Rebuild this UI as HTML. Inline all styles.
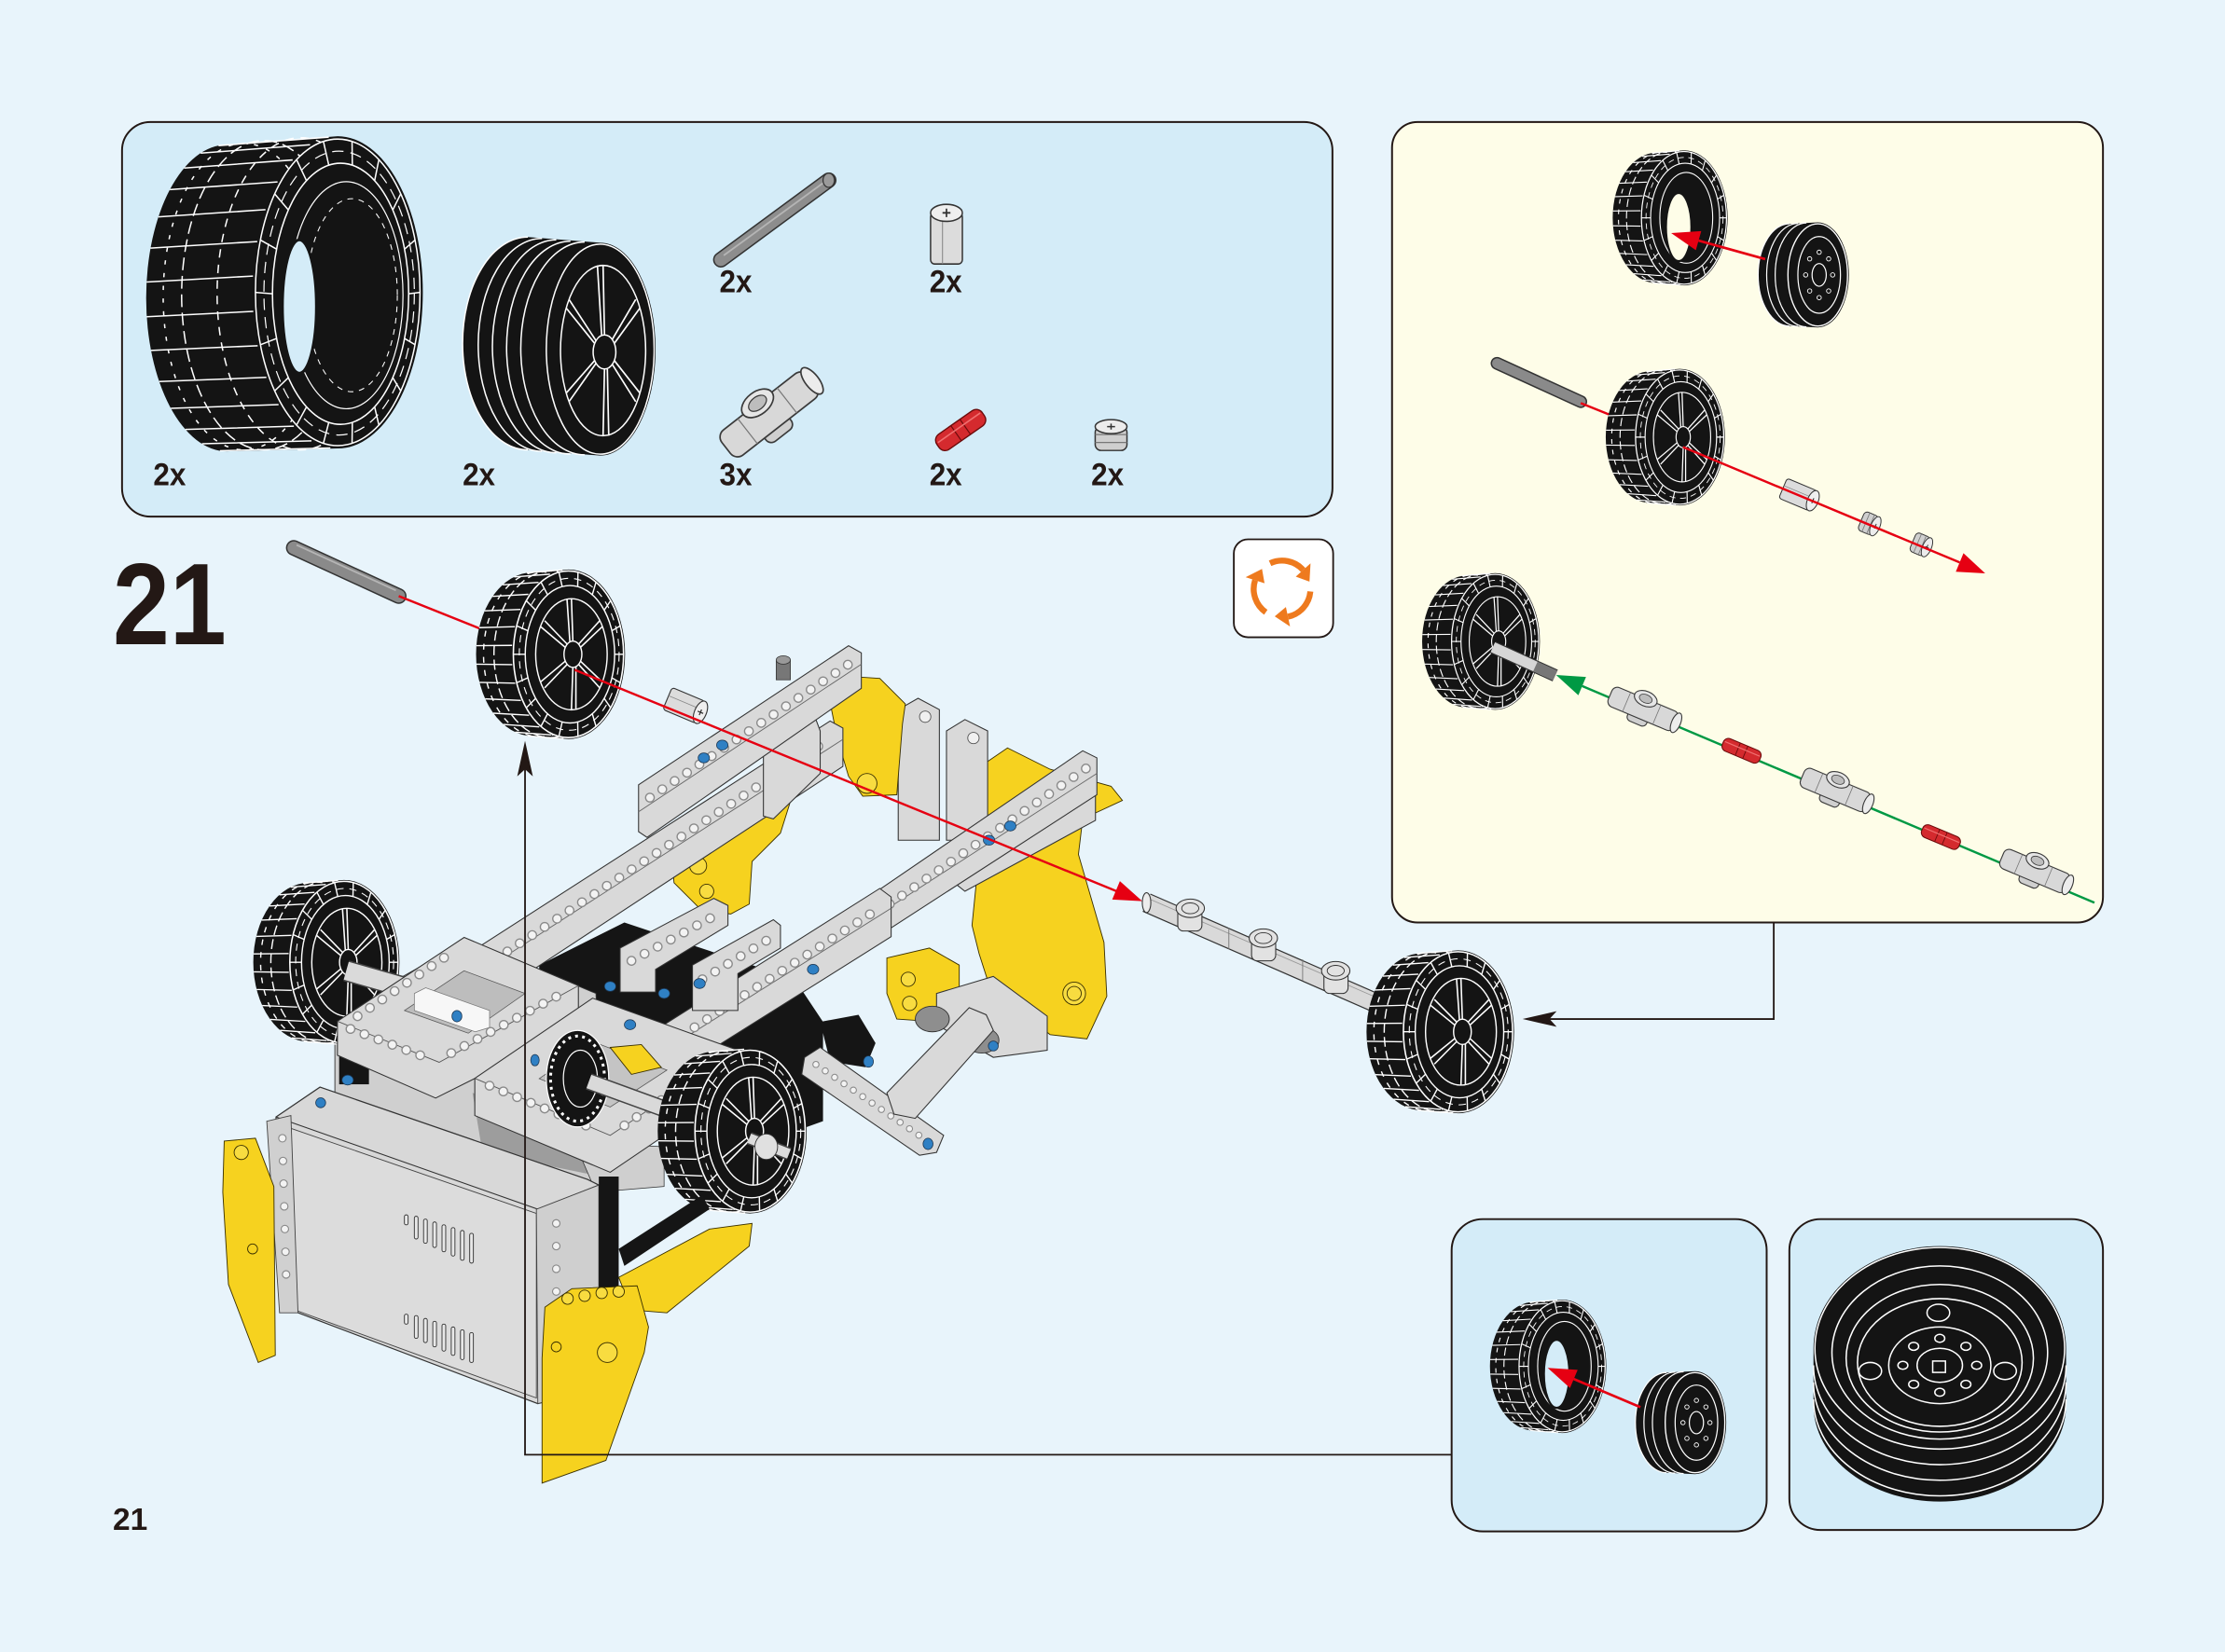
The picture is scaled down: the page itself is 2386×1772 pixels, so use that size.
<!DOCTYPE html>
<html><head><meta charset="utf-8"><title>Step 21</title>
<style>
html,body{margin:0;padding:0;background:#e8f4fb;overflow:hidden}
svg{display:block}
.h1{stroke:#8a8a8a;stroke-width:7;stroke-linecap:round;stroke-dasharray:0 10.5;fill:none}
.h2{stroke:#f3f3f3;stroke-width:5.2;stroke-linecap:round;stroke-dasharray:0 10.5;fill:none}
.g{fill:#d9d9d9;stroke:#333;stroke-width:0.7}
.y{fill:#f6d21f;stroke:#3a3000;stroke-width:0.6}
.k{fill:#151515}
.bp{fill:#2f80c4;stroke:#1c3550;stroke-width:0.5}
.lbl{font-family:"Liberation Sans Narrow","Liberation Sans",sans-serif;font-weight:bold;font-size:22.5px;fill:#231815}
</style></head><body>
<svg xmlns="http://www.w3.org/2000/svg" width="2386" height="1772" viewBox="0 0 1568 1164" preserveAspectRatio="none">
<defs>
<g id="wh">
<path d="M-12,-56 A38,56 0 0 0 -12,56 L12,58 A38,58 0 0 0 12,-58 Z" fill="#141414"/>
<g stroke="#fff" stroke-width="0.9" fill="none">
<ellipse cx="0" cy="0" rx="38" ry="57" stroke-dasharray="7 3"/>
<ellipse cx="-7" cy="0" rx="38" ry="56.5" stroke-dasharray="4 5"/>
<path d="M-15.3,55.8L8.7,57.8M-23.7,53.3L0.3,55.2M-31.6,48L-7.6,49.7M-38.4,40.3L-14.4,41.7M-43.9,30.5L-19.9,31.6M-47.7,19.2L-23.7,19.8M-49.7,6.8L-25.7,7.1M-49.8,-5.9L-25.8,-6.1M-47.9,-18.2L-23.9,-18.9M-44.2,-29.7L-20.2,-30.7M-38.9,-39.6L-14.9,-41M-32.1,-47.5L-8.1,-49.2M-24.4,-52.9L-0.4,-54.8M-16,-55.7L8,-57.7"/>
</g>
<ellipse cx="12" cy="0" rx="37" ry="57" fill="#141414" stroke="#fff" stroke-width="1"/>
<ellipse cx="13" cy="0" rx="30" ry="47" fill="none" stroke="#fff" stroke-width="0.9"/>
<ellipse cx="12.5" cy="0" rx="33.5" ry="52" fill="none" stroke="#fff" stroke-width="0.7" stroke-dasharray="5 4"/>
<path stroke="#fff" stroke-width="0.9" d="M49,0L43,0M46.8,19.5L41.2,16.1M40.3,36.6L36,30.2M30.5,49.4L28,40.7M18.4,56.1L18.2,46.3M5.6,56.1L7.8,46.3M-6.5,49.4L-2,40.7M-16.3,36.6L-10,30.2M-22.8,19.5L-15.2,16.1M-25,0L-17,0M-22.8,-19.5L-15.2,-16.1M-16.3,-36.6L-10,-30.2M-6.5,-49.4L-2,-40.7M5.6,-56.1L7.8,-46.3M18.4,-56.1L18.2,-46.3M30.5,-49.4L28,-40.7M40.3,-36.6L36,-30.2M46.8,-19.5L41.2,-16.1"/>
<ellipse cx="14" cy="0" rx="24" ry="38" fill="none" stroke="#fff" stroke-width="0.9"/>
<path stroke="#fff" stroke-width="1" d="M34.8,19L19.3,4M14,38L15,8M-6.8,19L10.7,4M-6.8,-19L10.7,-4M14,-38L15,-8M34.8,-19L19.3,-4M33,23L18,6M17,38L17,8M-4,23L12,6M-4,-23L12,-6M11,-38L13,-8M33,-23L18,-6"/>
<ellipse cx="15" cy="0" rx="6" ry="9" fill="#141414" stroke="#fff" stroke-width="0.9"/>
</g>
<g id="tr">
<path d="M-12,-56 A38,56 0 0 0 -12,56 L12,58 A38,58 0 0 0 12,-58 Z" fill="#141414"/>
<g stroke="#fff" stroke-width="0.9" fill="none">
<ellipse cx="0" cy="0" rx="38" ry="57" stroke-dasharray="7 3"/>
<ellipse cx="-7" cy="0" rx="38" ry="56.5" stroke-dasharray="4 5"/>
<path d="M-15.3,55.8L8.7,57.8M-23.7,53.3L0.3,55.2M-31.6,48L-7.6,49.7M-38.4,40.3L-14.4,41.7M-43.9,30.5L-19.9,31.6M-47.7,19.2L-23.7,19.8M-49.7,6.8L-25.7,7.1M-49.8,-5.9L-25.8,-6.1M-47.9,-18.2L-23.9,-18.9M-44.2,-29.7L-20.2,-30.7M-38.9,-39.6L-14.9,-41M-32.1,-47.5L-8.1,-49.2M-24.4,-52.9L-0.4,-54.8M-16,-55.7L8,-57.7"/>
</g>
<ellipse cx="12" cy="0" rx="37" ry="57" fill="#141414" stroke="#fff" stroke-width="1"/>
<ellipse cx="13" cy="0" rx="30" ry="47" fill="none" stroke="#fff" stroke-width="0.9"/>
<ellipse cx="12.5" cy="0" rx="33.5" ry="52" fill="none" stroke="#fff" stroke-width="0.7" stroke-dasharray="5 4"/>
<path stroke="#fff" stroke-width="0.9" d="M49,0L43,0M46.8,19.5L41.2,16.1M40.3,36.6L36,30.2M30.5,49.4L28,40.7M18.4,56.1L18.2,46.3M5.6,56.1L7.8,46.3M-6.5,49.4L-2,40.7M-16.3,36.6L-10,30.2M-22.8,19.5L-15.2,16.1M-25,0L-17,0M-22.8,-19.5L-15.2,-16.1M-16.3,-36.6L-10,-30.2M-6.5,-49.4L-2,-40.7M5.6,-56.1L7.8,-46.3M18.4,-56.1L18.2,-46.3M30.5,-49.4L28,-40.7M40.3,-36.6L36,-30.2M46.8,-19.5L41.2,-16.1"/>
<ellipse cx="14" cy="0" rx="23" ry="39" fill="none" stroke="#fff" stroke-width="0.9"/>
</g>
<g id="rim">
<path d="M-10,-36 A22,36 0 0 0 -10,36 L10,37 A22,37 0 0 0 10,-37 Z" fill="#141414"/>
<path d="M-4,-36.3 A22,36.3 0 0 0 -4,36.3 M2,-36.6 A22,36.6 0 0 0 2,36.6 M-10,-36 A22,36 0 0 0 -10,36" stroke="#fff" stroke-width="0.8" fill="none"/>
<ellipse cx="10" cy="0" rx="21" ry="36" fill="#141414" stroke="#fff" stroke-width="0.9"/>
<ellipse cx="11" cy="0" rx="15" ry="27" fill="none" stroke="#fff" stroke-width="0.8"/>
<ellipse cx="11" cy="0" rx="5" ry="8" fill="none" stroke="#fff" stroke-width="0.8"/>
<g fill="none" stroke="#fff" stroke-width="0.6">
<circle cx="20.5" cy="0" r="1.5"/><circle cx="17.7" cy="11.3" r="1.5"/><circle cx="11" cy="16" r="1.5"/><circle cx="4.3" cy="11.3" r="1.5"/><circle cx="1.5" cy="0" r="1.5"/><circle cx="4.3" cy="-11.3" r="1.5"/><circle cx="11" cy="-16" r="1.5"/><circle cx="17.7" cy="-11.3" r="1.5"/>
</g>
</g>
<g id="conn">
<rect x="-8" y="-2" width="14" height="13" rx="3" fill="#cfcfcf" stroke="#3a3a3a" stroke-width="0.7"/>
<rect x="-24" y="-7" width="48" height="14" rx="4" fill="#d8d8d8" stroke="#3a3a3a" stroke-width="0.7"/>
<line x1="-12" y1="-7" x2="-12" y2="7" stroke="#777" stroke-width="0.5"/>
<line x1="10" y1="-7" x2="10" y2="7" stroke="#777" stroke-width="0.5"/>
<ellipse cx="-1" cy="-7" rx="8" ry="5" fill="#e6e6e6" stroke="#3a3a3a" stroke-width="0.7"/>
<ellipse cx="-1" cy="-7" rx="4.5" ry="2.8" fill="#bdbdbd" stroke="#3a3a3a" stroke-width="0.5"/>
<ellipse cx="24" cy="0" rx="3" ry="7" fill="#ececec" stroke="#3a3a3a" stroke-width="0.7"/>
</g>
<g id="pin">
<rect x="-15" y="-5" width="30" height="10" rx="4" fill="#d42a2e" stroke="#6b0b0b" stroke-width="0.7"/>
<line x1="-3" y1="-5" x2="-3" y2="5" stroke="#6b0b0b" stroke-width="0.6"/>
<line x1="3" y1="-5" x2="3" y2="5" stroke="#6b0b0b" stroke-width="0.6"/>
<line x1="-14" y1="-1.5" x2="14" y2="-1.5" stroke="#f07070" stroke-width="0.8"/>
</g>
<g id="bush">
<rect x="-12" y="-8" width="24" height="16" rx="2" fill="#dcdcdc" stroke="#333" stroke-width="0.7"/>
<line x1="-12" y1="-2" x2="12" y2="-2" stroke="#888" stroke-width="0.5"/>
<ellipse cx="12" cy="0" rx="4" ry="8" fill="#efefef" stroke="#333" stroke-width="0.7"/>
<path d="M10,0h4M12,-2v4" stroke="#333" stroke-width="0.8"/>
</g>
<g id="hb">
<rect x="-6" y="-8" width="12" height="16" rx="3" fill="#cfcfcf" stroke="#333" stroke-width="0.7"/>
<line x1="-2" y1="-8" x2="-2" y2="8" stroke="#777" stroke-width="0.6"/>
<line x1="2" y1="-8" x2="2" y2="8" stroke="#777" stroke-width="0.6"/>
<ellipse cx="6" cy="0" rx="3.5" ry="8" fill="#ececec" stroke="#333" stroke-width="0.7"/>
<path d="M4.5,0h3M6,-2v4" stroke="#333" stroke-width="0.7"/>
</g>
</defs>

<rect width="1568" height="1164" fill="#e8f4fb"/>

<!-- ============ PARTS BOX ============ -->
<rect x="86" y="86" width="853" height="278" rx="20" fill="#d4ecf8" stroke="#231815" stroke-width="1.3"/>
<!-- big tire -->
<path d="M160,102 A57,108 0 0 0 160,318 L238,316 A60,110 0 0 0 238,96 Z" fill="#141414"/>
<g stroke="#fff" stroke-width="1" fill="none">
<ellipse cx="186" cy="208" rx="58" ry="109" stroke-dasharray="9 4"/>
<ellipse cx="212" cy="207" rx="59" ry="110" stroke-dasharray="6 5"/>
<ellipse cx="172" cy="209" rx="57" ry="108" stroke-dasharray="3 6"/>
<path d="M155,317.6L232.8,315.6M142.4,312.7L219.5,310.6M130.6,302.6L207.1,300.3M120.4,287.7L196.3,285.1M112.2,268.8L187.7,265.9M106.4,246.9L181.6,243.6M103.4,223.2L178.5,219.4M103.3,198.7L178.3,194.5M106.1,174.8L181.3,170.2M111.7,152.8L187.1,147.7M119.7,133.6L195.6,128.2M129.8,118.4L206.2,112.7M141.4,107.9L218.5,102M154,102.6L231.7,96.6"/>
</g>
<ellipse cx="238" cy="206" rx="58" ry="108" fill="#141414" stroke="#fff" stroke-width="1"/>
<ellipse cx="240" cy="207" rx="48" ry="92" fill="none" stroke="#fff" stroke-width="1"/>
<ellipse cx="239" cy="206.5" rx="53" ry="100" fill="none" stroke="#fff" stroke-width="0.8" stroke-dasharray="8 5"/>
<path stroke="#fff" stroke-width="1" d="M296,206L288,207M292.5,242.9L285.1,238.5M282.4,275.4L276.8,266.1M267,299.5L264,286.7M248.1,312.4L248.3,297.6M227.9,312.4L231.7,297.6M209,299.5L216,286.7M193.6,275.4L203.2,266.1M183.5,242.9L194.9,238.5M180,206L192,207M183.5,169.1L194.9,175.5M193.6,136.6L203.2,147.9M209,112.5L216,127.3M227.9,99.6L231.7,116.4M248.1,99.6L248.3,116.4M267,112.5L264,127.3M282.4,136.6L276.8,147.9M292.5,169.1L285.1,175.5"/>
<ellipse cx="244" cy="208" rx="40" ry="80" fill="none" stroke="#fff" stroke-width="0.8"/>
<ellipse cx="248" cy="208" rx="32" ry="68" fill="none" stroke="#fff" stroke-width="0.7" stroke-dasharray="4 4"/>
<ellipse cx="211" cy="216" rx="12" ry="47" fill="#d4ecf8" stroke="#141414" stroke-width="2"/>
<!-- rim -->
<path d="M372,167 A46,75 0 0 0 372,317 L423,321 A39,75 0 0 0 423,171 Z" fill="#141414"/>
<path d="M382,168 A45,75 0 0 0 382,318 M392,169 A45,75 0 0 0 392,319 M402,170 A45,75 0 0 0 402,320 M412,170.5 A45,75 0 0 0 412,320.5 M372,167 A46,75 0 0 0 372,317" stroke="#fff" stroke-width="1" fill="none"/>
<ellipse cx="423" cy="246" rx="38" ry="74" fill="#141414" stroke="#fff" stroke-width="1"/>
<ellipse cx="425" cy="247" rx="30" ry="60" fill="none" stroke="#fff" stroke-width="1"/>
<path stroke="#fff" stroke-width="1.1" d="M451,277L432.9,254M425,307L426,260M399,277L419.1,254M399,217L419.1,242M425,187L426,236M451,217L432.9,242M448,283L431,256M429,307L428,260M401,283L420,256M401,211L420,240M421,187L424,236M448,211L431,240"/>
<ellipse cx="426" cy="248" rx="8" ry="12" fill="#141414" stroke="#fff" stroke-width="1"/>
<!-- axle -->
<line x1="508" y1="183" x2="584" y2="127" stroke="#333" stroke-width="11" stroke-linecap="round"/>
<line x1="508" y1="183" x2="584" y2="127" stroke="#8d8d8d" stroke-width="9" stroke-linecap="round"/>
<line x1="510" y1="180" x2="580" y2="129" stroke="#b5b5b5" stroke-width="1.2"/>
<ellipse cx="584" cy="127" rx="4" ry="5" fill="#9a9a9a" stroke="#333" stroke-width="0.8"/>
<use href="#bush" transform="translate(667,168) rotate(-90) scale(1.5,1.4)"/>
<use href="#conn" transform="translate(542,292) rotate(-38) scale(1.6)"/>
<use href="#pin" transform="translate(677,303) rotate(-35) scale(1.3)"/>
<use href="#hb" transform="translate(783,309) rotate(-90) scale(1.4)"/>
<text class="lbl" x="108" y="342" textLength="23" lengthAdjust="spacingAndGlyphs">2x</text>
<text class="lbl" x="326" y="342" textLength="23" lengthAdjust="spacingAndGlyphs">2x</text>
<text class="lbl" x="507" y="342" textLength="23" lengthAdjust="spacingAndGlyphs">3x</text>
<text class="lbl" x="655" y="342" textLength="23" lengthAdjust="spacingAndGlyphs">2x</text>
<text class="lbl" x="769" y="342" textLength="23" lengthAdjust="spacingAndGlyphs">2x</text>
<text class="lbl" x="507" y="206" textLength="23" lengthAdjust="spacingAndGlyphs">2x</text>
<text class="lbl" x="655" y="206" textLength="23" lengthAdjust="spacingAndGlyphs">2x</text>

<!-- ============ STEP NUMBER ============ -->
<text x="79.5" y="454" font-family="Liberation Sans, sans-serif" font-weight="bold" font-size="82" fill="#231815" textLength="80" lengthAdjust="spacingAndGlyphs">21</text>
<text x="79.5" y="1078" font-family="Liberation Sans, sans-serif" font-weight="bold" font-size="22" fill="#231815">21</text>

<!-- ============ ROTATE ICON ============ -->
<rect x="869.5" y="380" width="70" height="69" rx="10" fill="#ffffff" stroke="#231815" stroke-width="1.2"/>
<g fill="none" stroke="#ee7a1e" stroke-width="4.2">
<path d="M895.05,396.87 A20,20 0 0 1 918.36,401.62"/>
<path d="M923.42,416.74 A20,20 0 0 1 907.66,434.56"/>
<path d="M892.03,431.38 A20,20 0 0 1 884.48,408.82"/>
</g>
<g fill="#ee7a1e">
<polygon points="913.16,406.3 923.56,396.93 922.82,409.82"/>
<polygon points="906.2,427.72 909.11,441.41 898.32,434.32"/>
<polygon points="891.14,410.98 877.82,406.66 889.36,400.86"/>
</g>

<!-- ============ MAIN MODEL ============ -->
<!-- back yellow -->
<polygon class="y" points="688,542 710,527 740,542 783,554 791,564 763,577 760,602 778,664 780,702 766,732 740,729 725,717 698,697 690,672 685,652 688,622 695,597"/>
<circle cx="757" cy="700" r="8" fill="#f8dc40" stroke="#3a3000" stroke-width="0.6"/>
<circle cx="757" cy="700" r="5" fill="none" stroke="#3a3000" stroke-width="0.6"/>
<polygon class="g" points="633,500 647,492 662,500 662,592 633,592"/>
<polygon class="g" points="667,515 680,507 696,515 696,592 667,592"/>
<circle cx="652" cy="505" r="4" fill="#f0f0f0" stroke="#555" stroke-width="0.6"/>
<circle cx="686" cy="520" r="4" fill="#f0f0f0" stroke="#555" stroke-width="0.6"/>
<polygon class="y" points="584,490 605,477 620,478 638,496 636,510 632,560 608,561 598,547 590,520"/>
<circle cx="611" cy="552" r="7" fill="#f8dc40" stroke="#3a3000" stroke-width="0.6"/>
<polygon class="y" points="510,567 555,544 561,552 550,587 530,607 528,637 515,644 495,642 475,622 473,599 495,587 510,582"/>
<circle cx="492" cy="610" r="6" fill="#f8dc40" stroke="#3a3000" stroke-width="0.6"/>
<circle cx="498" cy="628" r="5" fill="#f8dc40" stroke="#3a3000" stroke-width="0.6"/>
<polygon class="y" points="625,675 655,668 676,680 676,712 660,720 632,718 625,700"/>
<circle cx="640" cy="690" r="5" fill="#f8dc40" stroke="#3a3000" stroke-width="0.6"/>
<circle cx="641" cy="707" r="5" fill="#f8dc40" stroke="#3a3000" stroke-width="0.6"/>
<!-- black region -->
<polygon class="k" points="380,680 440,650 560,690 580,720 580,790 552,800 470,765 380,712"/>
<!-- L beam -->
<polygon class="g" points="330,672 585,508 594,513 594,540 338,708 330,703"/>
<line x1="331" y1="690" x2="594" y2="521" stroke="#666" stroke-width="0.6"/>
<line class="h1" x1="340" y1="682" x2="584" y2="521"/><line class="h2" x1="340" y1="682" x2="584" y2="521"/>
<!-- U1 -->
<polygon class="g" points="538,522 575,507 578,515 578,545 545,577 538,575"/>
<polygon class="g" points="450,553 598,455 607,460 607,485 456,590 450,586"/>
<line x1="450" y1="572" x2="607" y2="468" stroke="#666" stroke-width="0.6"/>
<line class="h1" x1="458" y1="562" x2="598" y2="468"/><line class="h2" x1="458" y1="562" x2="598" y2="468"/>
<rect x="547" y="465" width="10" height="14" fill="#777" stroke="#333" stroke-width="0.5"/>
<ellipse cx="552" cy="465" rx="5" ry="3" fill="#999" stroke="#333" stroke-width="0.5"/>
<!-- R1 -->
<polygon class="g" points="675,597 765,545 772,550 772,578 680,628 675,624"/>
<line class="h1" x1="684" y1="609" x2="764" y2="562"/><line class="h2" x1="684" y1="609" x2="764" y2="562"/>
<polygon class="g" points="618,628 763,529 773,534 773,560 623,657 618,652"/>
<line x1="618" y1="645" x2="773" y2="545" stroke="#666" stroke-width="0.6"/>
<line class="h1" x1="627" y1="637" x2="766" y2="541"/><line class="h2" x1="627" y1="637" x2="766" y2="541"/>
<!-- lower right gray parts -->
<polygon class="g" points="660,700 700,688 738,716 738,740 700,745 660,722"/>
<ellipse cx="657" cy="718" rx="12" ry="9" fill="#8e8e8e" stroke="#333" stroke-width="0.6"/>
<ellipse cx="692" cy="733" rx="12" ry="9" fill="#8e8e8e" stroke="#333" stroke-width="0.6"/>
<polygon class="k" points="578,720 605,715 617,735 610,752 585,748"/>
<polygon class="g" points="567,745 578,738 665,800 660,812 648,814 565,757"/>
<line class="h1" x1="575" y1="750" x2="655" y2="805" style="stroke-width:5;stroke-dasharray:0 8"/>
<line class="h2" x1="575" y1="750" x2="655" y2="805" style="stroke-width:3.6;stroke-dasharray:0 8"/>
<polygon class="g" points="625,770 683,710 695,715 700,726 645,788 630,785"/>
<!-- R beam -->
<polygon class="g" points="400,765 620,626 628,632 628,660 405,800 400,796"/>
<line x1="400" y1="783" x2="628" y2="640" stroke="#666" stroke-width="0.6"/>
<line class="h1" x1="410" y1="775" x2="618" y2="641"/><line class="h2" x1="410" y1="775" x2="618" y2="641"/>
<!-- small beams -->
<polygon class="g" points="437,668 503,633 513,638 513,652 462,683 462,699 437,699"/>
<line class="h1" x1="445" y1="677" x2="506" y2="644"/><line class="h2" x1="445" y1="677" x2="506" y2="644"/>
<polygon class="g" points="488,680 545,648 550,652 550,668 520,686 520,712 488,712"/>
<line class="h1" x1="495" y1="690" x2="543" y2="661"/><line class="h2" x1="495" y1="690" x2="543" y2="661"/>
<!-- under structure -->
<polygon points="236,715 330,662 420,700 425,836 380,850 236,790" fill="#cfcfcf" stroke="#333" stroke-width="0.6"/>
<polygon points="333,770 414,800 414,827 340,812" fill="#9d9d9d"/>
<polygon points="405,805 468,808 468,836 420,840" fill="#cfcfcf" stroke="#333" stroke-width="0.5"/>
<rect x="239" y="743" width="21" height="21" fill="#151515"/>
<!-- left wheel -->
<use href="#wh" transform="translate(230,678) scale(1.03,1)"/>
<line x1="244" y1="684" x2="300" y2="700" stroke="#444" stroke-width="15"/>
<line x1="244" y1="684" x2="300" y2="700" stroke="#dadada" stroke-width="13"/>
<!-- F1 -->
<polygon class="g" points="237.8,719.6 327.1,660.5 407.6,694.5 407.6,723.4 307,773.7 237.8,743.5"/>
<polyline points="237.8,719.6 309.5,748.5 407.6,694.5" fill="none" stroke="#555" stroke-width="0.6"/>
<polygon points="285,712 327,684 370,700 330,728" fill="#bdbdbd" stroke="#555" stroke-width="0.5"/>
<polygon points="292,700 300,696 345,712 345,724 335,727 292,712" fill="#f7f7f7" stroke="#777" stroke-width="0.5"/>
<line class="h1" x1="247" y1="725" x2="300" y2="745"/><line class="h2" x1="247" y1="725" x2="300" y2="745"/>
<line class="h1" x1="318" y1="742" x2="398" y2="699"/><line class="h2" x1="318" y1="742" x2="398" y2="699"/>
<line class="h1" x1="252" y1="716" x2="320" y2="670"/><line class="h2" x1="252" y1="716" x2="320" y2="670"/>
<!-- F2 -->
<polygon class="g" points="334.6,759.8 417.6,703.3 520,740 520,765 430,826 334.6,786"/>
<polyline points="334.6,759.8 430,800 520,740" fill="none" stroke="#555" stroke-width="0.6"/>
<polygon points="380,760 418,734 470,754 430,780" fill="#c4c4c4" stroke="#555" stroke-width="0.5"/>
<polygon class="y" points="430,738 452,736 466,752 445,757"/>
<line class="h1" x1="345" y1="765" x2="420" y2="796"/><line class="h2" x1="345" y1="765" x2="420" y2="796"/>
<line class="h1" x1="440" y1="793" x2="510" y2="745"/><line class="h2" x1="440" y1="793" x2="510" y2="745"/>
<!-- gear -->
<ellipse cx="407" cy="760" rx="22" ry="34" fill="#141414" stroke="#fff" stroke-width="0.8"/>
<ellipse cx="407" cy="760" rx="19" ry="30" fill="none" stroke="#fff" stroke-width="2" stroke-dasharray="2 3"/>
<ellipse cx="409" cy="760" rx="12" ry="20" fill="none" stroke="#fff" stroke-width="0.8"/>
<line x1="415" y1="762" x2="470" y2="782" stroke="#444" stroke-width="12"/>
<line x1="415" y1="762" x2="470" y2="782" stroke="#d9d9d9" stroke-width="10"/>
<!-- battery box -->
<polygon points="194.5,787 225.5,766 414,831 422,835 422,978 379,989 197,920" fill="#d8d8d8" stroke="#333" stroke-width="0.8"/>
<polygon points="205,795 378,855 378,985 205,922" fill="#dcdcdc" stroke="#444" stroke-width="0.6"/>
<polyline points="194.5,787 379,852 422,835" fill="none" stroke="#333" stroke-width="0.7"/>
<polygon points="188,790 205,786 210,925 197,925" fill="#d0d0d0" stroke="#444" stroke-width="0.6"/>
<polygon points="378,852 422,835 422,978 379,989" fill="#cfcfcf" stroke="#444" stroke-width="0.6"/>
<line class="h1" x1="199" y1="802" x2="202" y2="912" style="stroke-width:6;stroke-dasharray:0 16"/>
<line class="h2" x1="199" y1="802" x2="202" y2="912" style="stroke-width:4.5;stroke-dasharray:0 16"/>
<line class="h1" x1="392" y1="862" x2="392" y2="975" style="stroke-width:6;stroke-dasharray:0 16"/>
<line class="h2" x1="392" y1="862" x2="392" y2="975" style="stroke-width:4.5;stroke-dasharray:0 16"/>
<g fill="#e8e8e8" stroke="#333" stroke-width="0.6">
<rect x="285" y="856" width="2.6" height="7" rx="1.2"/><rect x="292" y="857" width="2.6" height="16" rx="1.2"/><rect x="298.5" y="859" width="2.6" height="17" rx="1.2"/><rect x="305" y="861" width="2.6" height="18" rx="1.2"/><rect x="311.5" y="863" width="2.6" height="19" rx="1.2"/><rect x="318" y="865" width="2.6" height="20" rx="1.2"/><rect x="324.5" y="867" width="2.6" height="21" rx="1.2"/><rect x="331" y="869" width="2.6" height="21" rx="1.2"/>
<rect x="285" y="926" width="2.6" height="7" rx="1.2"/><rect x="292" y="927" width="2.6" height="16" rx="1.2"/><rect x="298.5" y="929" width="2.6" height="17" rx="1.2"/><rect x="305" y="931" width="2.6" height="18" rx="1.2"/><rect x="311.5" y="933" width="2.6" height="19" rx="1.2"/><rect x="318" y="935" width="2.6" height="20" rx="1.2"/><rect x="324.5" y="937" width="2.6" height="21" rx="1.2"/><rect x="331" y="939" width="2.6" height="21" rx="1.2"/>
</g>
<!-- front right wheel -->
<use href="#wh" transform="translate(516,797) scale(1.05,1)"/>
<line x1="528" y1="802" x2="556" y2="813" stroke="#444" stroke-width="9"/>
<line x1="528" y1="802" x2="556" y2="813" stroke="#dcdcdc" stroke-width="7"/>
<ellipse cx="540" cy="808" rx="8" ry="9" fill="#e0e0e0" stroke="#333" stroke-width="0.6"/>
<!-- black bits + yellow front -->
<rect x="422" y="829" width="14" height="81" fill="#151515"/>
<polygon points="436,880 495,842 500,852 440,892" fill="#151515"/>
<polygon class="y" points="436,900 500,866 530,862 528,878 470,925 445,923"/>
<polygon class="y" points="158,804 180,802 193,836 194,955 182,960 161,905 157,840"/>
<circle cx="170" cy="812" r="5" fill="#f8dc40" stroke="#3a3000" stroke-width="0.6"/>
<circle cx="178" cy="880" r="3.5" fill="none" stroke="#3a3000" stroke-width="0.6"/>
<polygon class="y" points="384,921 403,908 449,906 457,935 454,953 427,1029 382,1045 382,957"/>
<circle cx="400" cy="915" r="4" fill="#f8dc40" stroke="#3a3000" stroke-width="0.6"/>
<circle cx="412" cy="913" r="4" fill="#f8dc40" stroke="#3a3000" stroke-width="0.6"/>
<circle cx="424" cy="911" r="4" fill="#f8dc40" stroke="#3a3000" stroke-width="0.6"/>
<circle cx="436" cy="910" r="4" fill="#f8dc40" stroke="#3a3000" stroke-width="0.6"/>
<circle cx="428" cy="953" r="7" fill="#f8dc40" stroke="#3a3000" stroke-width="0.6"/>
<circle cx="392" cy="949" r="3.5" fill="none" stroke="#3a3000" stroke-width="0.6"/>
<!-- blue pins -->
<g class="bp">
<ellipse cx="496" cy="534" rx="4" ry="3.5"/><ellipse cx="509" cy="525" rx="4" ry="3.5"/><ellipse cx="245" cy="761" rx="4" ry="3.5"/><ellipse cx="322" cy="716" rx="3.5" ry="4"/><ellipse cx="444" cy="722" rx="4" ry="3.5"/><ellipse cx="493" cy="693" rx="4" ry="3.5"/><ellipse cx="468" cy="700" rx="4" ry="3.5"/><ellipse cx="712" cy="582" rx="4" ry="3.5"/><ellipse cx="697" cy="592" rx="4" ry="3.5"/><ellipse cx="612" cy="748" rx="3.5" ry="4"/><ellipse cx="654" cy="806" rx="3.5" ry="4"/><ellipse cx="430" cy="695" rx="4" ry="3.5"/><ellipse cx="573" cy="683" rx="4" ry="3.5"/><ellipse cx="700" cy="737" rx="3.5" ry="3.5"/><ellipse cx="226" cy="777" rx="3.5" ry="3.5"/><ellipse cx="377" cy="747" rx="3" ry="4"/>
</g>
<!-- top exploded: axle, wheel, bushing -->
<line x1="207" y1="386" x2="281" y2="420" stroke="#333" stroke-width="11" stroke-linecap="round"/>
<line x1="207" y1="386" x2="281" y2="420" stroke="#8a8a8a" stroke-width="9" stroke-linecap="round"/>
<line x1="209" y1="384" x2="279" y2="416" stroke="#b5b5b5" stroke-width="1.2"/>
<line x1="281" y1="420" x2="346" y2="446" stroke="#e60012" stroke-width="1.6"/>
<use href="#wh" transform="translate(388,461) scale(1.05,1.03)"/>
<use href="#bush" transform="translate(482,497) rotate(22.8) scale(1.05)"/>
<line x1="405" y1="472" x2="787" y2="628" stroke="#e60012" stroke-width="1.6"/>
<polygon points="805,635 783.8,633.8 789.2,620.8" fill="#e60012"/>
<!-- right exploded axle + wheel -->
<line x1="808" y1="636" x2="975" y2="709" stroke="#333" stroke-width="14"/>
<line x1="808" y1="636" x2="975" y2="709" stroke="#d9d9d9" stroke-width="12.4"/>
<line x1="809" y1="633" x2="975" y2="705" stroke="#9a9a9a" stroke-width="0.6"/>
<line x1="866" y1="654" x2="866" y2="669" stroke="#777" stroke-width="0.6"/>
<line x1="918" y1="676" x2="918" y2="691" stroke="#777" stroke-width="0.6"/>
<g fill="#e2e2e2" stroke="#333" stroke-width="0.7">
<rect x="830" y="640" width="17" height="16" rx="4"/><rect x="882" y="661" width="17" height="16" rx="4"/><rect x="933" y="684" width="17" height="16" rx="4"/>
<ellipse cx="838.8" cy="640" rx="10" ry="6.5"/><ellipse cx="890.3" cy="661" rx="10" ry="6.5"/><ellipse cx="941.3" cy="684" rx="10" ry="6.5"/>
</g>
<g fill="none" stroke="#333" stroke-width="0.6">
<ellipse cx="838.8" cy="640" rx="6" ry="3.8"/><ellipse cx="890.3" cy="661" rx="6" ry="3.8"/><ellipse cx="941.3" cy="684" rx="6" ry="3.8"/>
</g>
<ellipse cx="808" cy="636" rx="3" ry="7" fill="#ececec" stroke="#333" stroke-width="0.7"/>
<use href="#wh" transform="translate(1015,727) scale(1.04,0.99)"/>

<!-- ============ RIGHT SUB-ASSEMBLY BOX ============ -->
<rect x="981" y="86" width="501" height="564" rx="18" fill="#fefde8" stroke="#231815" stroke-width="1.3"/>
<use href="#tr" transform="translate(1177,153.5) scale(0.81,0.82)"/>
<ellipse cx="1183" cy="160" rx="9" ry="24" fill="#fefde8" stroke="#141414" stroke-width="1.5"/>
<use href="#rim" transform="translate(1271,193.7)"/>
<line x1="1244" y1="182.6" x2="1197" y2="169.5" stroke="#e60012" stroke-width="1.8"/>
<polygon points="1177.7,164.2 1198.9,162.8 1195.1,176.3" fill="#e60012"/>
<line x1="1055" y1="256" x2="1114" y2="283" stroke="#333" stroke-width="9" stroke-linecap="round"/>
<line x1="1055" y1="256" x2="1114" y2="283" stroke="#8a8a8a" stroke-width="7" stroke-linecap="round"/>
<line x1="1114" y1="284" x2="1135" y2="292.5" stroke="#e60012" stroke-width="1.6"/>
<use href="#wh" transform="translate(1173.6,308) scale(0.84,0.83)"/>
<use href="#bush" transform="translate(1267,348.4) rotate(22.8) scale(0.95)"/>
<use href="#hb" transform="translate(1316.6,368.7) rotate(22.8) scale(0.9)"/>
<use href="#hb" transform="translate(1353,383.5) rotate(22.8) scale(0.9)"/>
<line x1="1186" y1="315" x2="1381" y2="396.3" stroke="#e60012" stroke-width="1.6"/>
<polygon points="1399,404 1378.3,402.8 1383.7,389.8" fill="#e60012"/>
<use href="#wh" transform="translate(1043.7,452) scale(0.83,0.83)"/>
<line x1="1052" y1="456" x2="1096" y2="476" stroke="#333" stroke-width="9"/>
<line x1="1052" y1="456" x2="1096" y2="476" stroke="#d6d6d6" stroke-width="7.4"/>
<line x1="1082" y1="469.6" x2="1096" y2="476" stroke="#777" stroke-width="7.4"/>
<line x1="1115" y1="483.4" x2="1476" y2="636" stroke="#009944" stroke-width="1.6"/>
<polygon points="1096.6,475.6 1117.7,477 1112.3,489.9" fill="#009944"/>
<use href="#conn" transform="translate(1157.9,499.5) rotate(22.8) scale(1.05)"/>
<use href="#pin" transform="translate(1227.3,529) rotate(22.8) scale(0.95)"/>
<use href="#conn" transform="translate(1293.4,556.6) rotate(22.8) scale(1.05)"/>
<use href="#pin" transform="translate(1367.8,589.8) rotate(22.8) scale(0.95)"/>
<use href="#conn" transform="translate(1434,613.7) rotate(22.8) scale(1.05)"/>

<!-- connector right box -> wheel -->
<path d="M1250,650 V718 H1092" fill="none" stroke="#231815" stroke-width="1.2"/>
<polygon points="1073,718 1097,712.5 1092,718 1097,723.5" fill="#231815"/>

<!-- ============ BOTTOM BOXES ============ -->
<rect x="1023" y="859" width="222" height="220" rx="22" fill="#d4ecf8" stroke="#231815" stroke-width="1.3"/>
<rect x="1261" y="859" width="221" height="219" rx="22" fill="#d4ecf8" stroke="#231815" stroke-width="1.3"/>
<use href="#tr" transform="translate(1091,962.7) scale(0.82,0.81)"/>
<ellipse cx="1097" cy="968" rx="9" ry="24" fill="#d4ecf8" stroke="#141414" stroke-width="1.5"/>
<use href="#rim" transform="translate(1184.5,1002.4) scale(1,0.98)"/>
<line x1="1156" y1="991.5" x2="1109" y2="971.6" stroke="#e60012" stroke-width="1.8"/>
<polygon points="1090.7,963.8 1111.8,965.2 1106.4,978" fill="#e60012"/>
<!-- big rim -->
<path d="M1278,950 A89,72 0 0 1 1456,950 L1456,990 A89,68 0 0 1 1278,990 Z" fill="#141414"/>
<path d="M1278,962 A89,70 0 0 0 1456,962 M1278,974 A89,69 0 0 0 1456,974 M1278,986 A89,68 0 0 0 1456,986" fill="none" stroke="#fff" stroke-width="1"/>
<ellipse cx="1367" cy="950" rx="88" ry="71" fill="#141414" stroke="#fff" stroke-width="1"/>
<g fill="none" stroke="#fff" stroke-width="1">
<ellipse cx="1367" cy="953" rx="76" ry="61"/>
<ellipse cx="1367" cy="957" rx="66" ry="52"/>
<ellipse cx="1367" cy="960" rx="58" ry="45"/>
<ellipse cx="1367" cy="962" rx="36" ry="27"/>
<ellipse cx="1367" cy="962" rx="16" ry="12"/>
<rect x="1362" y="959" width="9" height="8"/>
<ellipse cx="1393" cy="962" rx="3.5" ry="2.8"/><ellipse cx="1385.4" cy="975.4" rx="3.5" ry="2.8"/><ellipse cx="1367" cy="981" rx="3.5" ry="2.8"/><ellipse cx="1348.6" cy="975.4" rx="3.5" ry="2.8"/><ellipse cx="1341" cy="962" rx="3.5" ry="2.8"/><ellipse cx="1348.6" cy="948.6" rx="3.5" ry="2.8"/><ellipse cx="1367" cy="943" rx="3.5" ry="2.8"/><ellipse cx="1385.4" cy="948.6" rx="3.5" ry="2.8"/>
<ellipse cx="1366" cy="925" rx="8" ry="6"/><ellipse cx="1318" cy="966" rx="8" ry="6"/><ellipse cx="1413" cy="966" rx="8" ry="6"/>
</g>

<!-- connector bottom box -> main wheel -->
<path d="M1023,1025 H370 V540" fill="none" stroke="#231815" stroke-width="1.2"/>
<polygon points="370,522 364.5,547 370,542 375.5,547" fill="#231815"/>
</svg>
</body></html>
